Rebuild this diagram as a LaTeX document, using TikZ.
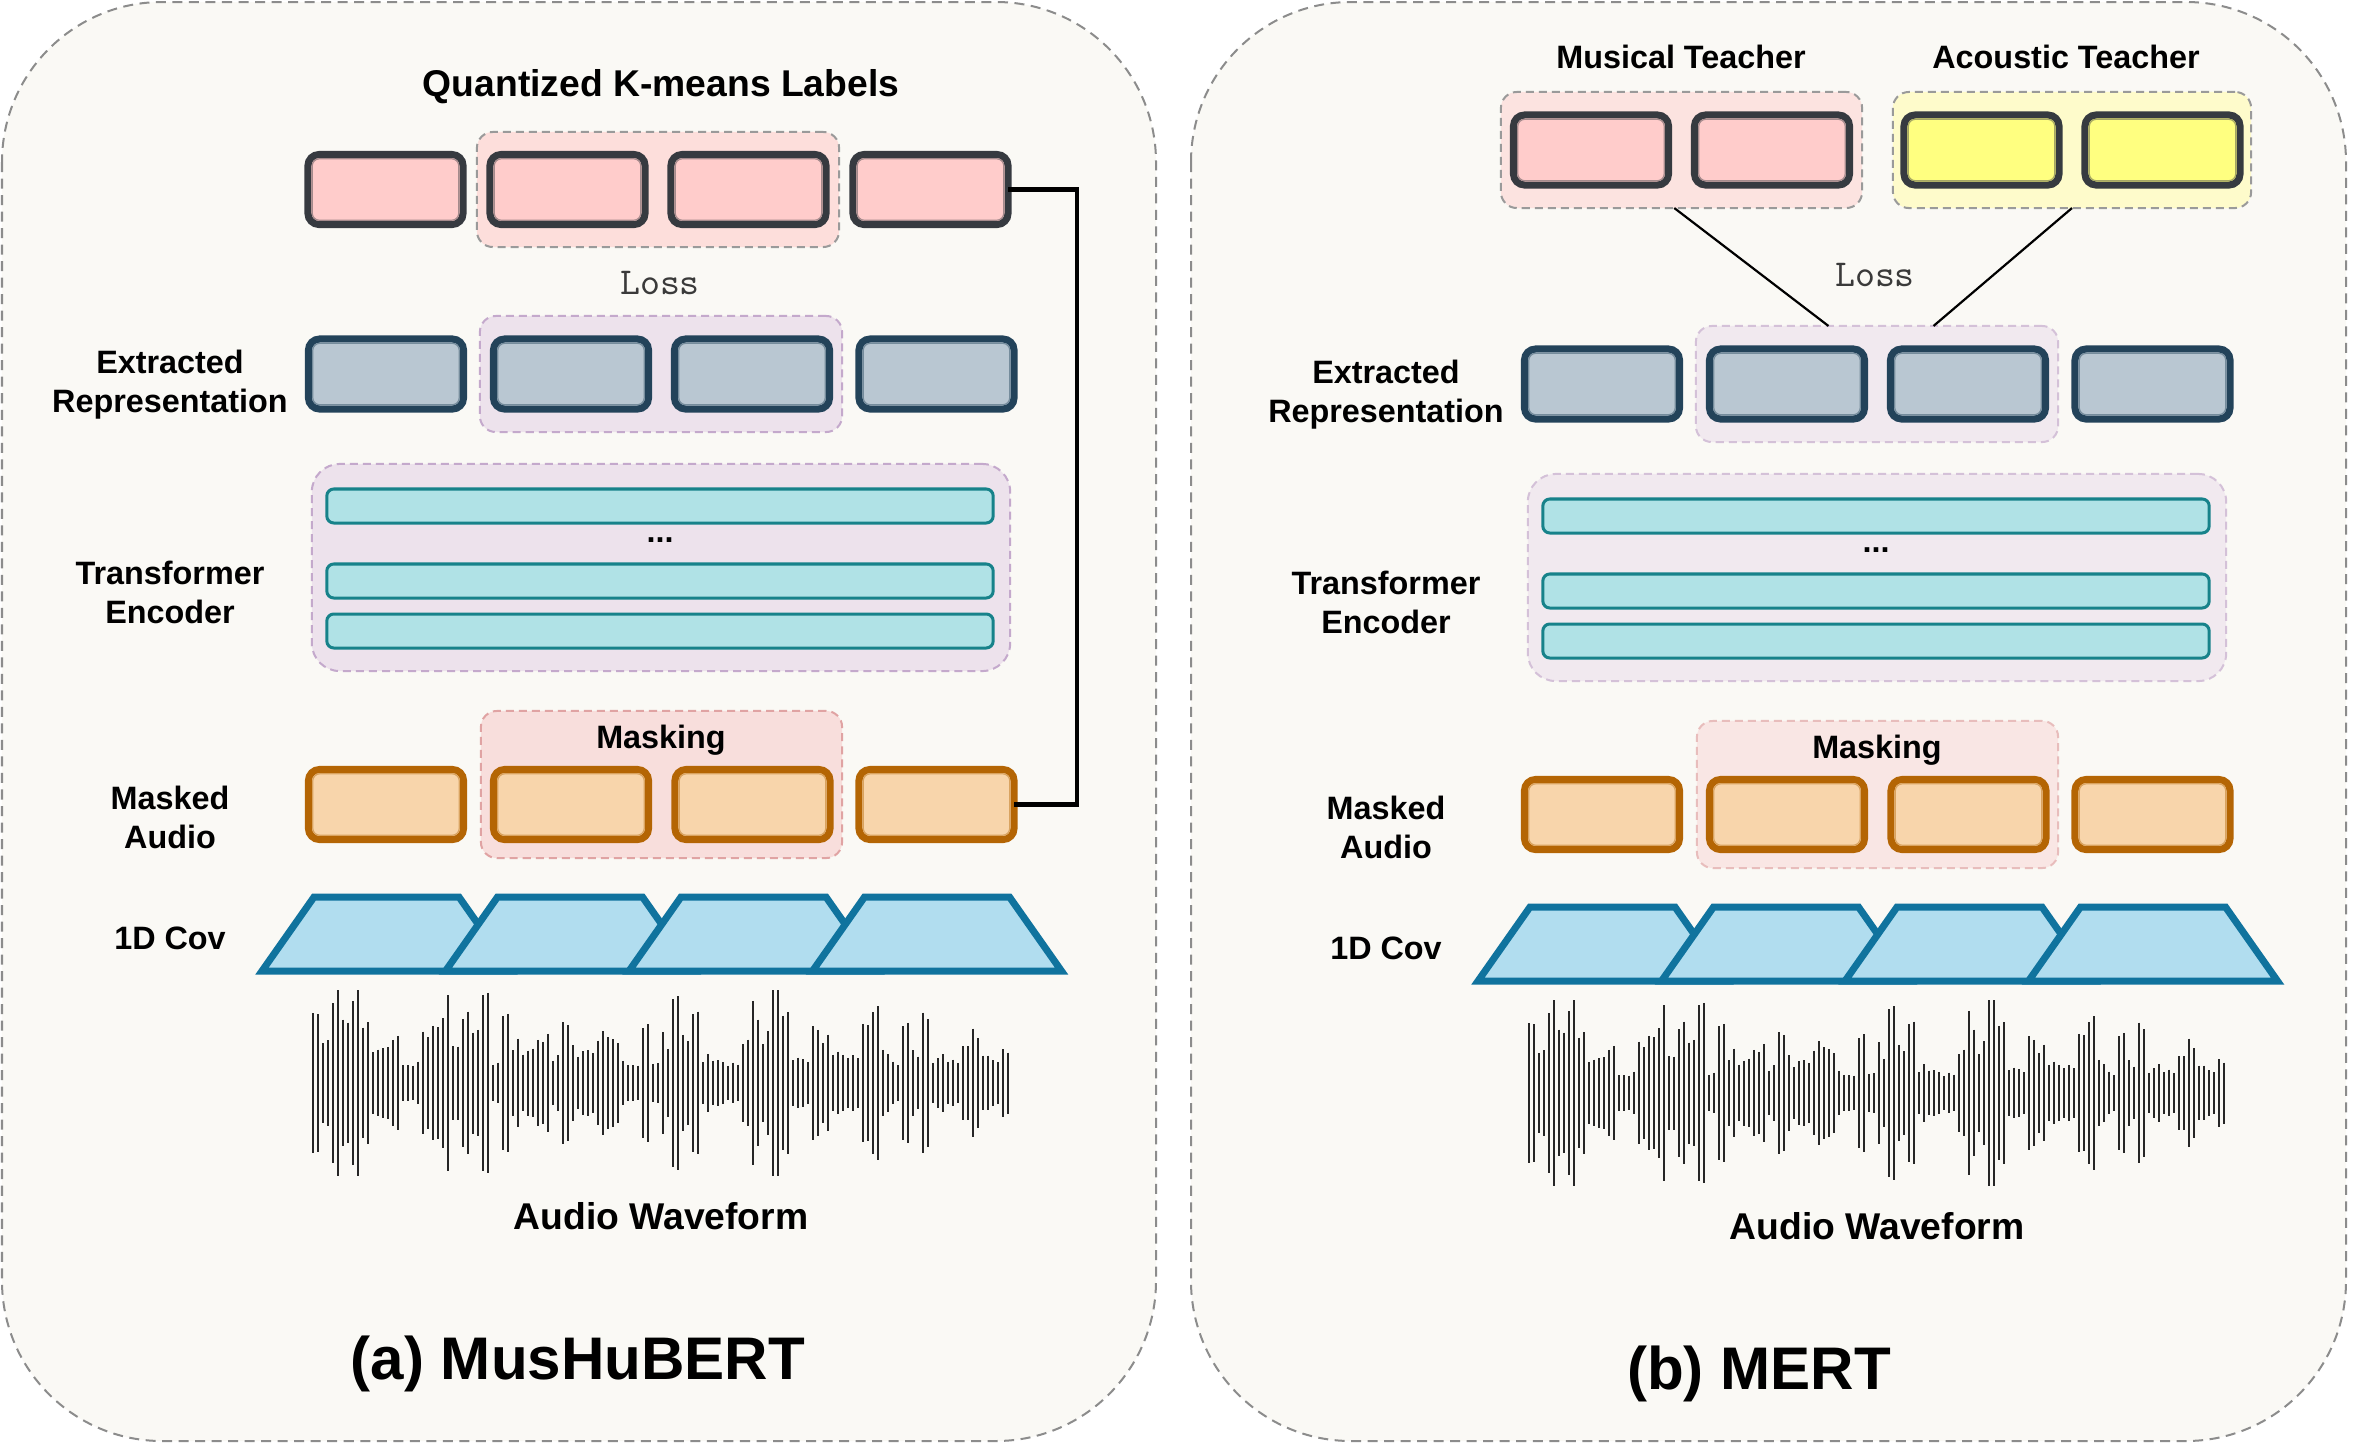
\documentclass[tikz,border=0pt]{standalone}
\usepackage{fontspec}
\setmainfont{Liberation Sans}
\usetikzlibrary{calc}
\definecolor{panelbg}{HTML}{FAF9F5}
\definecolor{panelline}{HTML}{8C8C8C}
\definecolor{pinkfill}{HTML}{FFCCCB}
\definecolor{tokdark}{HTML}{363A40}
\definecolor{pinkgrp}{HTML}{FDDEDB}
\definecolor{grpline}{HTML}{9A9A9A}
\definecolor{bluefill}{HTML}{B9C7D2}
\definecolor{bluedark}{HTML}{23435A}
\definecolor{purpgrp}{HTML}{EDE2EC}
\definecolor{purpline}{HTML}{C4A9CC}
\definecolor{layerfill}{HTML}{B0E2E6}
\definecolor{layerline}{HTML}{17828A}
\definecolor{orfill}{HTML}{F8D5AB}
\definecolor{ordark}{HTML}{B46504}
\definecolor{maskgrp}{HTML}{F8DEDC}
\definecolor{maskline}{HTML}{E0A3A3}
\definecolor{convfill}{HTML}{B1DDEF}
\definecolor{convline}{HTML}{10739E}
\definecolor{yelfill}{HTML}{FFFF80}
\definecolor{yelgrp}{HTML}{FEFBCB}
\definecolor{wavec}{HTML}{262626}
\definecolor{losscol}{HTML}{3A3A3A}
\tikzset{
  panel/.style={draw=panelline, fill=panelbg, line width=0.02cm, dash pattern=on 0.1cm off 0.065cm, rounded corners=1.6cm},
  tokbase/.style={rectangle, rounded corners=0.11cm, line width=0.07cm, minimum width=1.55cm, minimum height=0.70cm, inner sep=0, outer sep=0},
  grp/.style={rectangle, rounded corners=0.16cm, line width=0.02cm, dash pattern=on 0.08cm off 0.05cm, inner sep=0, outer sep=0},
  enclayer/.style={rectangle, rounded corners=0.07cm, draw=layerline, fill=layerfill, line width=0.03cm, minimum width=6.66cm, minimum height=0.34cm, inner sep=0, outer sep=0},
  lbl/.style={font=\fontsize{9.2}{11.1}\selectfont\bfseries, align=center, inner sep=0},
  ttl/.style={font=\fontsize{10.6}{12.7}\selectfont\bfseries, inner sep=0},
  bigttl/.style={font=\fontsize{17.1}{20}\selectfont\bfseries, inner sep=0},
  losst/.style={font=\fontsize{10.8}{13}\selectfont\ttfamily, text=losscol, inner sep=0},
  convshape/.style={draw=convline, fill=convfill, line width=0.07cm, line join=miter},
  wave/.style={draw=wavec, line width=0.018cm},
  conn/.style={draw=black, line width=0.045cm},
  teachline/.style={draw=black, line width=0.022cm},
}
\newcommand\tokb[5]{%
  \node[tokbase, fill=#4, draw=#5] (#1) at (#2,#3) {};
  \draw[line width=0.012cm, draw=#5!45!#4, rounded corners=0.07cm]
    ([shift={(0.043cm,0.043cm)}]#1.south west) rectangle ([shift={(-0.043cm,-0.043cm)}]#1.north east);
}
\newcommand\lowerpart[2]{%
  % extracted representation
  \node[grp, draw=purpline!#2!panelbg, fill=purpgrp!#2!panelbg, minimum width=3.62cm, minimum height=1.16cm] (#1eg) at (661,374) {};
  \tokb{#1e1}{386}{374}{bluefill}{bluedark}
  \tokb{#1e2}{571}{374}{bluefill}{bluedark}
  \tokb{#1e3}{752}{374}{bluefill}{bluedark}
  \tokb{#1e4}{936.5}{374}{bluefill}{bluedark}
  \node[lbl] (#1le) at (170,385) {Extracted\\Representation};
  % transformer
  \node[grp, rounded corners=0.28cm, draw=purpline!#2!panelbg, fill=purpgrp!#2!panelbg, minimum width=6.98cm, minimum height=2.07cm] (#1tg) at (661,567.5) {};
  \node[enclayer] (#1l1) at (660,506) {};
  \node[enclayer] (#1l2) at (660,581) {};
  \node[enclayer] (#1l3) at (660,631) {};
  \node[lbl] (#1dots) at (660,540) {...};
  \node[lbl] (#1lt) at (170,592) {Transformer\\Encoder};
  % masking
  \node[grp, draw=maskline!#2!panelbg, fill=maskgrp!#2!panelbg, minimum width=3.61cm, minimum height=1.47cm] (#1mg) at (661.5,784.5) {};
  \node[lbl] (#1mt) at (661,740) {Masking};
  \tokb{#1m1}{386}{804.5}{orfill}{ordark}
  \tokb{#1m2}{571}{804.5}{orfill}{ordark}
  \tokb{#1m3}{752.5}{804.5}{orfill}{ordark}
  \tokb{#1m4}{936.5}{804.5}{orfill}{ordark}
  \node[lbl] (#1lm) at (170,817) {Masked\\Audio};
  % 1D conv
  \foreach \k in {0,...,3} {
    \pgfmathsetmacro\bx{262+183.5*\k}
    \draw[convshape] (\bx,971) -- (\bx+52,897) -- (\bx+197,897) -- (\bx+249,971) -- cycle;
  }
  \node[lbl] (#1lc) at (170,938) {1D Cov};
  % waveform
  \foreach \i in {0,...,139} {
    \pgfmathsetmacro\r{frac(abs(sin(floor(\i/2)*97.13+13)*991))}
    \pgfmathsetmacro\s{frac(abs(sin(\i*57.7+3)*733))}
    \pgfmathsetmacro\e{0.55+0.45*abs(sin(\i*6.4+20))}
    \pgfmathsetmacro\h{min(93,17+115*\e*(0.8*\r+0.2*\s)^2)}
    \draw[wave] (313+5*\i,1083-\h) -- (313+5*\i,1083+\h);
  }
  \node[ttl] (#1aw) at (661,1216) {Audio Waveform};
}
\begin{document}
\begin{tikzpicture}[x=0.01cm, y=-0.01cm]
\fill[white] (0,0) rectangle (2360,1448);
\useasboundingbox (0,0) rectangle (2360,1448);
% panels
\draw[panel] (2,2) rectangle (1156,1441);
\draw[panel] (1191,2) rectangle (2346,1441);

% ===== left panel =====
\node[ttl] (qtitle) at (661,87) {Quantized K-means Labels};
\node[grp, draw=grpline, fill=pinkgrp, minimum width=3.62cm, minimum height=1.15cm] (qg) at (658,189.5) {};
\tokb{q1}{385.5}{189.5}{pinkfill}{tokdark}
\tokb{q2}{567.5}{189.5}{pinkfill}{tokdark}
\tokb{q3}{748.5}{189.5}{pinkfill}{tokdark}
\tokb{q4}{930.5}{189.5}{pinkfill}{tokdark}
\node[losst] (lossL) at (660,283) {Loss};
\lowerpart{l}{100}
\coordinate (rail) at (1077,0);
\draw[conn] (q4.east) -- (q4.east -| rail) -- (lm4.east -| rail) -- (lm4.east);
\node[bigttl] (titleA) at (578,1364) {(a) MusHuBERT};

% ===== right panel =====
\node[lbl] (mtitle) at (1681,57) {Musical Teacher};
\node[lbl] (atitle) at (2066,57) {Acoustic Teacher};
\node[grp, draw=grpline, fill=pinkgrp!80!panelbg, minimum width=3.61cm, minimum height=1.16cm] (mg) at (1681.5,150) {};
\node[grp, draw=grpline, fill=yelgrp, minimum width=3.58cm, minimum height=1.16cm] (ag) at (2072,150) {};
\tokb{mt1}{1591}{150}{pinkfill}{tokdark}
\tokb{mt2}{1772}{150}{pinkfill}{tokdark}
\tokb{at1}{1981.5}{150}{yelfill}{tokdark}
\tokb{at2}{2162.5}{150}{yelfill}{tokdark}
\begin{scope}[shift={(1216,10)}]
\lowerpart{r}{70}
\end{scope}
\draw[teachline] ($(mg.south west)!0.48!(mg.south east)$) -- ($(reg.north west)!0.366!(reg.north east)$);
\draw[teachline] (ag.south) -- ($(reg.north west)!0.656!(reg.north east)$);
\node[losst] (lossR) at (1875,275) {Loss};
\node[bigttl] (titleB) at (1759,1374) {(b) MERT};
\end{tikzpicture}
\end{document}
